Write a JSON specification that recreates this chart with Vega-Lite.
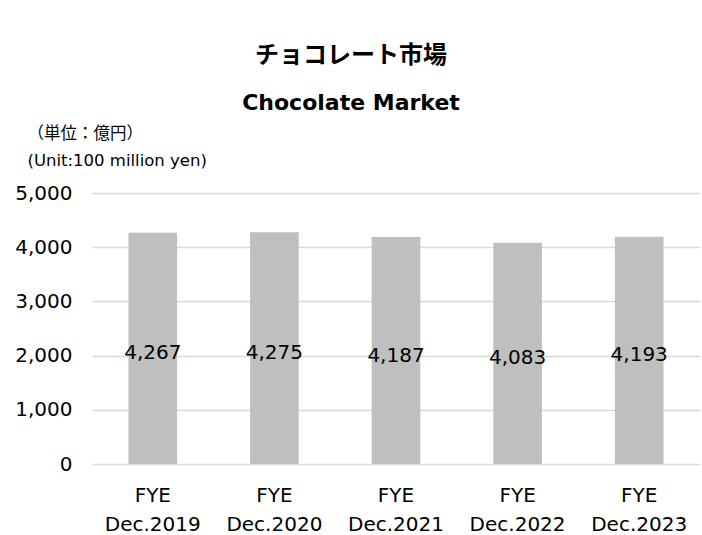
{
  "$schema": "https://vega.github.io/schema/vega-lite/v6.json",
  "width": 608,
  "height": 271,
  "autosize": "none",
  "padding": {"left": 92, "top": 193, "right": 2, "bottom": 71},
  "background": "white",
  "config": {"view": {"stroke": null}},
  "title": {
    "text": "チョコレート市場",
    "subtitle": "Chocolate Market",
    "font": "Noto Sans CJK JP",
    "fontSize": 24,
    "fontWeight": "bold",
    "color": "#000000",
    "subtitleFont": "DejaVu Sans",
    "subtitleFontSize": 22,
    "subtitleFontWeight": "bold",
    "subtitleColor": "#000000",
    "subtitlePadding": 25,
    "anchor": "middle",
    "frame": "group",
    "dx": -45,
    "offset": 11
  },
  "data": {
    "values": [
      {"year": "Dec.2019", "value": 4267},
      {"year": "Dec.2020", "value": 4275},
      {"year": "Dec.2021", "value": 4187},
      {"year": "Dec.2022", "value": 4083},
      {"year": "Dec.2023", "value": 4193}
    ]
  },
  "transform": [{"calculate": "datum.value / 2", "as": "mid"}],
  "encoding": {
    "x": {
      "field": "year",
      "type": "nominal",
      "sort": null,
      "scale": {"paddingInner": 0.6, "paddingOuter": 0.3},
      "axis": {
        "title": null,
        "labelAngle": 0,
        "labelExpr": "['FYE', datum.label]",
        "labelFont": "DejaVu Sans",
        "labelFontSize": 20,
        "labelLineHeight": 29,
        "labelColor": "#000000",
        "labelPadding": 21,
        "ticks": false,
        "domain": false
      }
    }
  },
  "layer": [
    {
      "mark": {"type": "bar", "color": "#bfbfbf"},
      "encoding": {
        "y": {
          "field": "value",
          "type": "quantitative",
          "scale": {"domain": [0, 5000]},
          "axis": {
            "values": [0, 1000, 2000, 3000, 4000, 5000],
            "format": ",d",
            "title": ["（単位：億円）", "(Unit:100 million yen)"],
            "titleFont": "DejaVu Sans, Noto Sans CJK JP",
            "titleFontSize": 16.5,
            "titleFontWeight": "normal",
            "titleColor": "#000000",
            "titleAngle": 0,
            "titleAlign": "left",
            "titleBaseline": "top",
            "titleLineHeight": 27,
            "titleX": -65,
            "titleY": -68,
            "labelFont": "DejaVu Sans",
            "labelFontSize": 20,
            "labelColor": "#000000",
            "labelPadding": 20,
            "ticks": false,
            "domain": false,
            "gridColor": "#d9d9d9",
            "gridWidth": 1.5
          }
        }
      }
    },
    {
      "mark": {"type": "text", "font": "DejaVu Sans", "fontSize": 20, "color": "#000000", "baseline": "middle", "dy": 5},
      "encoding": {
        "y": {"field": "mid", "type": "quantitative"},
        "text": {"field": "value", "type": "quantitative", "format": ",d"}
      }
    }
  ]
}
